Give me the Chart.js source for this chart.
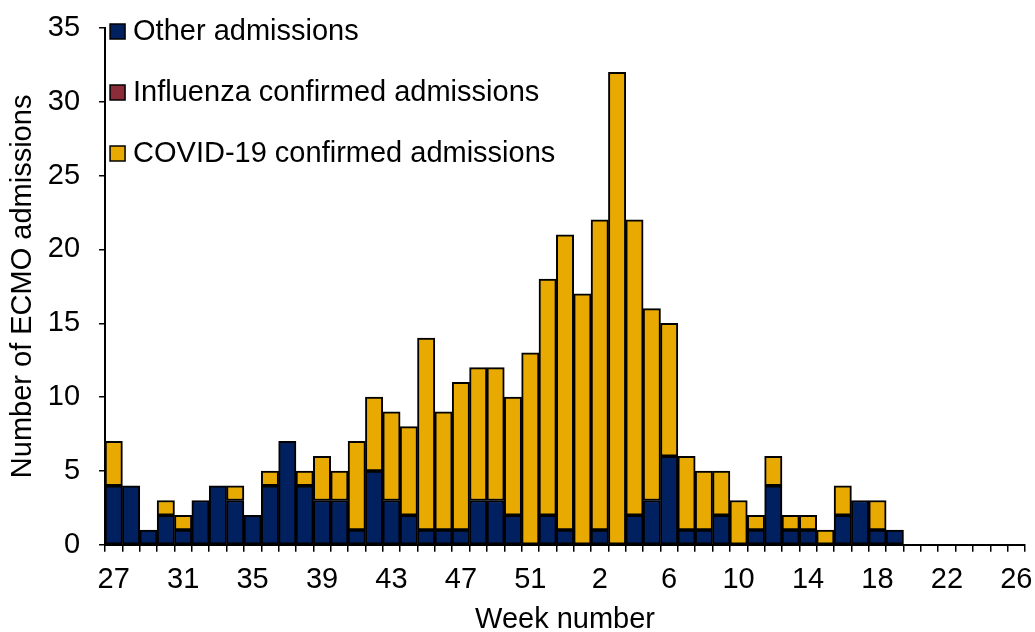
<!DOCTYPE html>
<html>
<head>
<meta charset="utf-8">
<script src="https://cdn.jsdelivr.net/npm/chart.js@4.4.0/dist/chart.umd.min.js"></script>
<style>
  html, body { margin: 0; padding: 0; background: #fff; }
  #wrap { width: 1035px; height: 632px; position: relative; }
</style>
</head>
<body>
<div id="wrap"><canvas id="myChart"></canvas></div>
<script>
// Week numbers (2020 wk27 .. 2021 wk26)
const weeks = ["27","28","29","30","31","32","33","34","35","36","37","38","39","40","41","42","43","44","45","46","47","48","49","50","51","52","53",
  "1","2","3","4","5","6","7","8","9","10","11","12","13","14","15","16","17","18","19","20","21","22","23","24","25","26"];

const otherAdm = [4,4,1,2,1,3,4,3,2,4,7,4,3,3,1,5,3,2,1,1,1,3,3,2,0,2,1,
  0,1,0,2,3,6,1,1,2,0,1,4,1,1,0,2,3,1,1,0,0,0,0,0,0,0];
const fluAdm = [0,0,0,0,0,0,0,0,0,0,0,0,0,0,0,0,0,0,0,0,0,0,0,0,0,0,0,
  0,0,0,0,0,0,0,0,0,0,0,0,0,0,0,0,0,0,0,0,0,0,0,0,0,0];
const covidAdm = [3,0,0,1,1,0,0,1,0,1,0,1,3,2,6,5,6,6,13,8,10,9,9,8,13,16,20,
  17,21,32,20,13,9,5,4,3,3,1,2,1,1,1,2,0,2,0,0,0,0,0,0,0,0];

const yTicks = [0,5,10,15,20,25,30,35];

const fam = "'Liberation Sans', Arial, sans-serif";
const font = { family: fam, size: 29, lineHeight: 1 };

// legend drawn inside the plot, top-left
const innerLegend = {
  id: "innerLegend",
  afterDraw(chart) {
    const c = chart.ctx;
    const area = chart.chartArea;
    c.save();
    c.font = "29px " + fam;
    c.textBaseline = "middle";
    chart.data.datasets.forEach((ds, i) => {
      const y = area.top + 3 + i * 61;
      const x = area.left + 5;
      c.fillStyle = ds.backgroundColor;
      c.fillRect(x, y - 7, 15, 15);
      c.strokeStyle = "#000";
      c.lineWidth = 1.5;
      c.strokeRect(x, y - 7, 15, 15);
      c.fillStyle = "#000";
      c.fillText(ds.label, x + 23, y + 1);
    });
    c.restore();
  }
};

var ctx = document.getElementById("myChart");
var myChart = new Chart(ctx, {
  type: "bar",
  data: {
    labels: weeks,
    datasets: [
      { label: "Other admissions", data: otherAdm, backgroundColor: "#002060" },
      { label: "Influenza confirmed admissions", data: fluAdm, backgroundColor: "#8B2C3A" },
      { label: "COVID-19 confirmed admissions", data: covidAdm, backgroundColor: "#E8AA00" },
    ].map((d) => Object.assign(d, {
      borderColor: "#000",
      borderWidth: 2,
      borderSkipped: false,
      categoryPercentage: 1,
      barPercentage: 1,
    })),
  },
  options: {
    responsive: true,
    maintainAspectRatio: false,
    animation: false,
    layout: { padding: { top: 28, right: 10, left: 0, bottom: 0 } },
    plugins: { legend: { display: false }, tooltip: { enabled: false } },
    scales: {
      x: {
        stacked: true,
        afterFit: (s) => { s.paddingLeft = 0; s.paddingRight = 0; },
        grid: { drawOnChartArea: false, drawTicks: true, tickLength: 7, color: "#000", lineWidth: 1.5, offset: true },
        border: { color: "#000", width: 2 },
        ticks: {
          color: "#000",
          font: font,
          autoSkip: false,
          maxRotation: 0,
          padding: 13.5,
          callback: function (v, i) { return i % 4 === 0 ? weeks[i] : ""; },
        },
        title: { display: true, text: "Week number", color: "#000", font: { family: fam, size: 29, lineHeight: 0.8 }, padding: { top: 1, bottom: 0 } },
      },
      y: {
        stacked: true,
        min: 0,
        max: 35,
        afterBuildTicks: (axis) => { axis.ticks = yTicks.map((v) => ({ value: v })); },
        afterFit: (s) => { s.paddingTop = 0; s.paddingBottom = 0; },
        grid: { drawOnChartArea: false, drawTicks: true, tickLength: 6, color: "#000", lineWidth: 1.5 },
        border: { color: "#000", width: 2 },
        ticks: { color: "#000", font: font, padding: 19 },
        title: { display: true, text: "Number of ECMO admissions", color: "#000", font: { family: fam, size: 29, lineHeight: 0.4 }, padding: { top: 17.2, bottom: 0 } },
      },
    },
  },
  plugins: [innerLegend],
});
</script>
</body>
</html>
